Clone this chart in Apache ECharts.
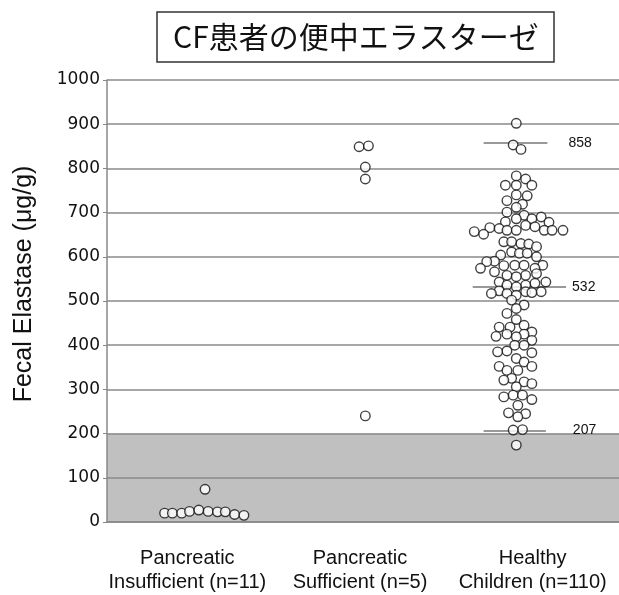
<!DOCTYPE html>
<html><head><meta charset="utf-8">
<script src="https://cdn.jsdelivr.net/npm/echarts@6/dist/echarts.min.js"></script>
<style>html,body{margin:0;padding:0;background:#fff}#c{width:619px;height:595px}</style>
</head><body><div id="c"></div>
<script>
// ---- data ----
const titleText = 'CF患者の便中エラスターゼ';
const yAxisName = 'Fecal Elastase (μg/g)';
const categories = ['Pancreatic\nInsufficient (n=11)', 'Pancreatic\nSufficient (n=5)', 'Healthy\nChildren (n=110)'];
const groupPositions = [1, 2, 3];
const normalRange = [0, 200];

const insuffValues = [74, 20, 20, 20, 24, 27, 24, 23, 23, 17, 15];
const insuffJitter = [0, -0.26, -0.21, -0.15, -0.10, -0.04, 0.02, 0.08, 0.13, 0.19, 0.25];

const suffValues = [849, 851, 803, 776, 240];
const suffJitter = [-0.01, 0.05, 0.03, 0.03, 0.03];

const healthyValues = [
  902, 853, 843,
  783, 776, 762, 762, 762, 740, 738, 727, 719, 712,
  701, 694, 690, 686, 686, 679, 678, 671, 668, 666, 664,
  660, 660, 660, 660, 660, 657, 651,
  634, 634, 630, 629, 623, 611, 608, 608, 604, 600,
  590, 589, 581, 581, 581, 580, 574, 574, 566, 562,
  558, 558, 555, 543, 543, 540, 536, 536, 532,
  523, 521, 521, 519, 517, 517, 513,
  502, 491, 483, 472, 458, 445, 441, 441, 430,
  425, 425, 420, 419, 411, 400, 400, 387, 385, 383,
  370, 362, 352, 352, 343, 343, 325, 321, 317, 313, 306,
  287, 287, 283, 277, 264, 247, 245, 238, 209, 208, 174
];
const healthyJitter = [
  0, -0.02, 0.03,
  0, 0.06, -0.07, 0, 0.10, 0, 0.07, -0.06, 0.04, 0,
  -0.06, 0.05, 0.16, 0, 0.10, -0.07, 0.21, 0.06, 0.12, -0.17, -0.11,
  -0.06, 0, 0.18, 0.23, 0.30, -0.27, -0.21,
  -0.08, -0.03, 0.03, 0.08, 0.13, -0.03, 0.02, 0.07, -0.10, 0.13,
  -0.14, -0.19, -0.01, 0.05, 0.17, -0.08, -0.23, 0.12, -0.14, 0.13,
  -0.06, 0.06, 0, -0.11, 0.19, 0.12, -0.06, 0.06, 0,
  -0.11, 0.06, 0.16, 0.10, -0.16, -0.06, 0,
  -0.03, 0.05, 0, -0.06, 0, 0.05, -0.11, -0.04, 0.10,
  -0.06, 0.05, -0.13, 0, 0.10, -0.01, 0.05, -0.06, -0.12, 0.10,
  0, 0.05, -0.11, 0.10, -0.06, 0.01, -0.03, -0.08, 0.05, 0.10, 0,
  -0.02, 0.04, -0.08, 0.10, 0.01, -0.05, 0.06, 0.01, 0.04, -0.02, 0
];
// healthy summary lines: 97.5th percentile, median, 2.5th percentile
const summaryValues = [858, 532, 207];

// ---- chart ----
const toPoints = (vals, jit, g) => vals.map((v, i) => [groupPositions[g] + jit[i], v]);
const dotStyle = {color: '#fff', borderColor: '#111', borderWidth: 1.4};
const summaryExtent = [[-0.21, 0.20, 21], [-0.28, 0.32, 6], [-0.21, 0.19, 27]];

const chart = echarts.init(document.getElementById('c'), null, {renderer: 'canvas'});
chart.setOption({
  animation: false,
  backgroundColor: '#fff',
  title: {
    text: titleText, left: 157, top: 12,
    padding: [7, 16, 7, 16],
    borderColor: '#333', borderWidth: 1.5,
    textStyle: {fontFamily: '"Noto Sans CJK JP", sans-serif', fontSize: 30, fontWeight: 'normal', color: '#111', lineHeight: 36}
  },
  graphic: [{
    type: 'text', x: 24, y: 284, rotation: Math.PI / 2,
    style: {text: yAxisName, align: 'center', verticalAlign: 'middle', fill: '#111',
      font: '25px "Liberation Sans", Arial, sans-serif'}
  }],
  grid: [
    {left: 107, top: 80, width: 512, height: 442},
    {left: 101, top: 80, width: 518, height: 442}
  ],
  xAxis: [
    {type: 'value', gridIndex: 0, min: 0.37, max: 3.66,
      axisLine: {show: true, onZero: false, lineStyle: {color: '#888', width: 1.5}},
      axisTick: {show: false}, axisLabel: {show: false}, splitLine: {show: false}},
    {type: 'category', gridIndex: 1, data: categories,
      axisLine: {show: false}, axisTick: {show: false}, splitLine: {show: false},
      axisLabel: {interval: 0, margin: 24, fontSize: 20, lineHeight: 24, color: '#111', fontFamily: '"Liberation Sans", Arial, sans-serif'}}
  ],
  yAxis: [
    {type: 'value', gridIndex: 0, min: 0, max: 1000, interval: 100,
      axisLine: {show: true, lineStyle: {color: '#888', width: 1.5}},
      axisTick: {show: true, length: 4, lineStyle: {color: '#888'}},
      axisLabel: {margin: 7, fontSize: 17, color: '#111', fontFamily: '"DejaVu Sans", sans-serif',
        formatter: v => String(v)},
      splitLine: {show: true, lineStyle: {color: '#8a8a8a', width: 1.5}}},
    {type: 'value', gridIndex: 1, show: false, min: 0, max: 1000}
  ],
  series: [
    {type: 'line', xAxisIndex: 0, yAxisIndex: 0, data: [], silent: true,
      markArea: {z: -1, silent: true, itemStyle: {color: '#c0c0c0'},
        data: [[{yAxis: normalRange[0]}, {yAxis: normalRange[1]}]]}},
    {type: 'scatter', xAxisIndex: 0, yAxisIndex: 0, symbolSize: 9.5, itemStyle: dotStyle,
      data: toPoints(insuffValues, insuffJitter, 0)},
    {type: 'scatter', xAxisIndex: 0, yAxisIndex: 0, symbolSize: 9.5, itemStyle: dotStyle,
      data: toPoints(suffValues, suffJitter, 1)},
    {type: 'scatter', xAxisIndex: 0, yAxisIndex: 0, symbolSize: 9.5, itemStyle: dotStyle,
      data: toPoints(healthyValues, healthyJitter, 2),
      markLine: {
        z: 1, silent: true, symbol: ['none', 'none'],
        lineStyle: {color: '#777', width: 1.5, type: 'solid'},
        data: summaryValues.map((v, i) => [
          {coord: [groupPositions[2] + summaryExtent[i][0], v],
           label: {show: true, position: 'end', distance: summaryExtent[i][2], formatter: String(v),
             color: '#111', fontSize: 14, fontFamily: '"Liberation Sans", Arial, sans-serif'}},
          {coord: [groupPositions[2] + summaryExtent[i][1], v]}
        ])
      }}
  ]
});
</script></body></html>
